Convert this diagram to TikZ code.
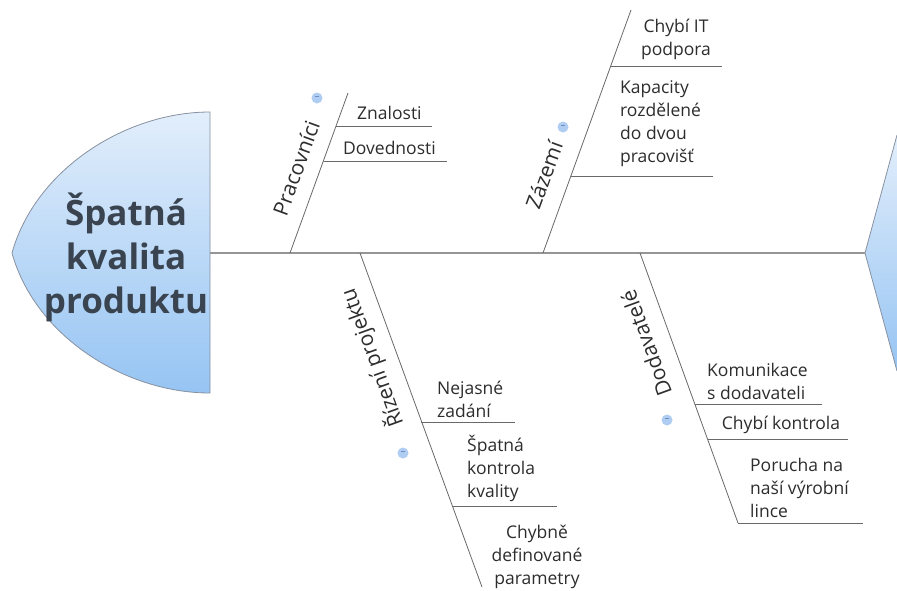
\documentclass[tikz,border=0pt]{standalone}
\usepackage{fontspec}
\setmainfont{Open Sans}
\usetikzlibrary{positioning,calc}
\definecolor{headtop}{RGB}{226,238,251}
\definecolor{headbot}{RGB}{150,196,243}
\definecolor{headline}{RGB}{135,145,160}
\definecolor{headtxt}{RGB}{58,68,80}
\definecolor{spinegray}{RGB}{150,150,150}
\definecolor{bonegray}{RGB}{105,105,105}
\definecolor{txtgray}{RGB}{45,45,45}
\definecolor{iconblue}{RGB}{175,204,242}
\definecolor{icondark}{RGB}{110,140,190}
\tikzset{
  spine/.style ={draw=spinegray, line width=1.6pt},
  bone/.style  ={draw=bonegray, line width=0.8pt},
  twig/.style  ={draw=bonegray, line width=0.9pt},
  cause/.style ={font=\fontsize{21}{25}\selectfont, text=txtgray, inner sep=0pt},
  sub/.style   ={font=\fontsize{17.5}{23}\selectfont, text=txtgray, align=left, inner sep=0pt, anchor=south west},
  subc/.style  ={sub, align=center, anchor=south},
  fold/.style  ={circle, fill=iconblue, minimum size=11pt, inner sep=0pt},
  headfill/.style={top color=headtop, bottom color=headbot, draw=headline, line width=0.8pt},
}
\newcommand{\foldminus}{\textcolor{icondark}{\rule[2.5pt]{4.5pt}{0.7pt}}}

\begin{document}
\begin{tikzpicture}[x=1pt,y=-1pt]
\useasboundingbox[fill=white] (0,0) rectangle (897,590);

% heads
\path[headfill] (210,112) .. controls (125,112) and (35,170) .. (12,253)
  .. controls (35,336) and (125,393) .. (210,393) -- cycle;
\node[font=\fontsize{35}{44}\selectfont\bfseries, text=headtxt, align=center] (effect) at (126,257)
  {Špatná\\kvalita\\produktu};
\shade[top color=headtop, bottom color=headbot] (897,135) -- (865,253) -- (897,371) -- cycle;
\draw[headline, line width=0.8pt] (897,135) -- (865,253) -- (897,371);

% spine
\coordinate (headR) at (210,253);
\coordinate (tail)  at (865,253);
\draw[spine] (headR) -- (tail);

% bones
\coordinate (pracS) at (290,253);  \coordinate (pracE) at (348,93);
\coordinate (zazS)  at (543,253);  \coordinate (zazE)  at (631,10);
\coordinate (rizS)  at (360,253);  \coordinate (rizE)  at (482,587);
\coordinate (dodS)  at (640,253);  \coordinate (dodE)  at (738,523);
\draw[bone] (pracS) -- (pracE);
\draw[bone] (zazS) -- (zazE);
\draw[bone] (rizS) -- (rizE);
\draw[bone] (dodS) -- (dodE);

\node[cause, rotate=70]  (pracL) at (296,168) {Pracovníci};
\node[cause, rotate=70]  (zazL)  at (544,175) {Zázemí};
\node[cause, rotate=110] (rizL)  at (372,358) {Řízení projektu};
\node[cause, rotate=110] (dodL)  at (646,343) {Dodavatelé};

\node[fold] (pracI) at (317,98)  {\foldminus};
\node[fold] (zazI)  at (563,127) {\foldminus};
\node[fold] (rizI)  at (403,453) {\foldminus};
\node[fold] (dodI)  at (667,420) {\foldminus};

% Pracovnici
\coordinate (p1) at (336,126); \coordinate (p1e) at (432,126);
\coordinate (p2) at (324,161); \coordinate (p2e) at (447,161);
\draw[twig] (p1) -- (p1e);
\draw[twig] (p2) -- (p2e);
\node[sub] (znal) at (357,120) {Znalosti};
\node[sub] (dove) at (343,155) {Dovednosti};

% Zazemi
\coordinate (z1) at (611,66);  \coordinate (z1e) at (722,66);
\coordinate (z2) at (571,176); \coordinate (z2e) at (713,176);
\draw[twig] (z1) -- (z1e);
\draw[twig] (z2) -- (z2e);
\node[subc] (itpod) at (676,60) {Chybí IT\\podpora};
\node[sub]  (kapac) at (620,167) {Kapacity\\rozdělené\\do dvou\\pracovišť};

% Rizeni projektu
\coordinate (r1) at (421,422); \coordinate (r1e) at (515,422);
\coordinate (r2) at (452,506); \coordinate (r2e) at (557,506);
\draw[twig] (r1) -- (r1e);
\draw[twig] (r2) -- (r2e);
\node[sub]  (nejas) at (437,418) {Nejasné\\zadání};
\node[sub]  (spkon) at (467,502) {Špatná\\kontrola\\kvality};
\node[subc] (chdef) at (537,589) {Chybně\\definované\\parametry};

% Dodavatele
\coordinate (d1) at (695,404); \coordinate (d1e) at (822,404);
\coordinate (d2) at (708,439); \coordinate (d2e) at (848,439);
\coordinate (d3) at (738,523); \coordinate (d3e) at (863,523);
\draw[twig] (d1) -- (d1e);
\draw[twig] (d2) -- (d2e);
\draw[twig] (d3) -- (d3e);
\node[sub]  (komun) at (707,400) {Komunikace\\s dodavateli};
\node[subc] (chkon) at (781,434) {Chybí kontrola};
\node[sub]  (poruc) at (750,518) {Porucha na\\naší výrobní\\lince};
\end{tikzpicture}
\end{document}
